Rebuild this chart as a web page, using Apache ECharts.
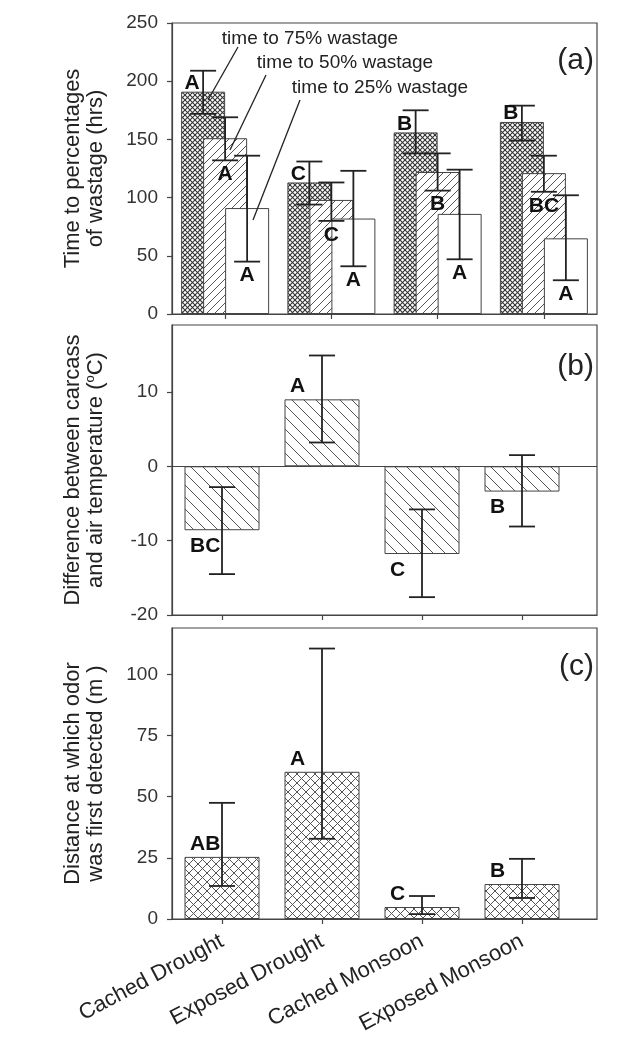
<!DOCTYPE html>
<html>
<head>
<meta charset="utf-8">
<script src="https://cdn.jsdelivr.net/npm/echarts@6/dist/echarts.min.js"></script>
<style>
  html, body { margin: 0; padding: 0; background: #fff; }
  #chart { width: 626px; height: 1062px; }
</style>
</head>
<body>
<div id="chart"></div>
<script>
// ---- data ----
const categories = ['Cached Drought', 'Exposed Drought', 'Cached Monsoon', 'Exposed Monsoon'];

// (a) time to percentages of wastage (hrs)
const t75 = [191, 113, 156, 165];
const t75Hi = [209, 131, 175, 179];
const t75Lo = [172, 94, 138, 149];
const t75Letters = ['A', 'C', 'B', 'B'];

const t50 = [151, 98, 122, 121];
const t50Hi = [169, 113, 138, 136];
const t50Lo = [132, 80, 106, 105];
const t50Letters = ['A', 'C', 'B', 'BC'];

const t25 = [91, 82, 86, 65];
const t25Hi = [136, 123, 124, 102];
const t25Lo = [45, 41, 47, 29];
const t25Letters = ['A', 'A', 'A', 'A'];

// (b) carcass minus air temperature (C)
const tempDiff = [-8.6, 9.0, -11.8, -3.4];
const tempHi = [-2.8, 14.9, -5.8, 1.5];
const tempLo = [-14.5, 3.2, -17.6, -8.1];
const tempLetters = ['BC', 'A', 'C', 'B'];

// (c) distance odor first detected (m)
const odor = [25.4, 60.2, 4.9, 14.3];
const odorHi = [47.5, 110.6, 9.4, 24.6];
const odorLo = [13.5, 32.8, 2.0, 8.6];
const odorLetters = ['AB', 'A', 'C', 'B'];

const yTicksA = [0, 50, 100, 150, 200, 250];
const yTicksB = [-20, -10, 0, 10];
const yTicksC = [0, 25, 50, 75, 100];
const xPos = [1, 2, 3, 4];

// ---- styling ----
const FONT = 'Liberation Sans, Arial, sans-serif';
const INK = '#222';
const EDGE = '#444';
const BAR_A = 44;
const GAP_A = -0.5;

function hatch(size, dirs, lw, col) {
    const c = document.createElement('canvas');
    c.width = c.height = size;
    const g = c.getContext('2d');
    g.fillStyle = '#fff';
    g.fillRect(0, 0, size, size);
    g.strokeStyle = col;
    g.lineWidth = lw;
    dirs.forEach(d => {
        for (let k = -1; k <= 1; k++) {
            g.beginPath();
            if (d > 0) { g.moveTo(k * size, size); g.lineTo(k * size + size, 0); }
            else { g.moveTo(k * size, 0); g.lineTo(k * size + size, size); }
            g.stroke();
        }
    });
    return { image: c, repeat: 'repeat' };
}

const crossFine = hatch(5, [1, -1], 1.1, '#333');
const slashA = hatch(8, [1], 1, '#555');
const backB = hatch(12, [-1], 1, '#555');
const crossC = hatch(9, [1, -1], 1, '#555');

// error bars + significance letters drawn through the axes
function errSeries(xi, yi, mean, hi, lo, letters, xs, offset, mode) {
    return {
        type: 'custom',
        xAxisIndex: xi,
        yAxisIndex: yi,
        z: 5,
        clip: false,
        silent: true,
        data: mean.map((v, i) => [xs[i], v, hi[i], lo[i]]),
        renderItem: function (params, api) {
            const xv = api.value(0);
            const m = api.coord([xv, api.value(1)]);
            const h = api.coord([xv, api.value(2)]);
            const l = api.coord([xv, api.value(3)]);
            const zero = api.coord([xv, 0]);
            const x = m[0] + offset;
            const cap = 13;
            const ls = { stroke: INK, lineWidth: 1.8 };
            const txt = letters[params.dataIndex];
            let tx, ty, al;
            if (mode === 'left') { tx = x - 3.5; ty = m[1] - 8.5; al = 'right'; }
            else if (mode === 'below') { tx = x; ty = l[1] + 14; al = 'center'; }
            else {
                const up = m[1] <= zero[1];
                tx = x - 32; al = 'left';
                ty = up ? m[1] - 13 : m[1] + 16;
            }
            return {
                type: 'group',
                children: [
                    { type: 'line', shape: { x1: x, y1: h[1], x2: x, y2: l[1] }, style: ls },
                    { type: 'line', shape: { x1: x - cap, y1: h[1], x2: x + cap, y2: h[1] }, style: ls },
                    { type: 'line', shape: { x1: x - cap, y1: l[1], x2: x + cap, y2: l[1] }, style: ls },
                    { type: 'text', x: tx, y: ty, style: {
                        text: txt, fill: '#111', fontSize: 21, fontWeight: 'bold', fontFamily: FONT,
                        align: al, verticalAlign: 'middle' } }
                ]
            };
        }
    };
}

const tickStyle = { show: true, inside: false, length: 5, lineStyle: { color: EDGE, width: 1.2 } };
const lineStyle = { show: true, lineStyle: { color: EDGE, width: 1.2 } };
const yLabel = { fontSize: 19, color: '#333', fontFamily: FONT, margin: 14 };
const nameStyle = {
    fontSize: 22, lineHeight: 23, color: INK, fontFamily: FONT,
    rich: { s: { fontSize: 13, lineHeight: 23, verticalAlign: 'top', color: INK, fontFamily: FONT } }
};
const barOff = BAR_A * (1 + GAP_A);

const chart = echarts.init(document.getElementById('chart'), null, { renderer: 'canvas' });

const option = {
    backgroundColor: '#fff',
    animation: false,
    grid: [
        { left: 172, top: 23, width: 425, height: 291, show: true, borderColor: EDGE, borderWidth: 1.2 },
        { left: 172, top: 325, width: 425, height: 290, show: true, borderColor: EDGE, borderWidth: 1.2 },
        { left: 172, top: 628, width: 425, height: 291, show: true, borderColor: EDGE, borderWidth: 1.2 }
    ],
    xAxis: [
        { gridIndex: 0, type: 'category', data: categories, axisLine: lineStyle,
          axisTick: Object.assign({ alignWithLabel: true, interval: 0 }, tickStyle),
          axisLabel: { show: false }, splitLine: { show: false } },
        { gridIndex: 1, type: 'value', min: 0.5, max: 4.75,
          axisLine: Object.assign({ onZero: false }, lineStyle),
          axisTick: Object.assign({ customValues: xPos }, tickStyle),
          axisLabel: { show: false, customValues: xPos }, splitLine: { show: false } },
        { gridIndex: 2, type: 'value', min: 0.5, max: 4.75,
          axisLine: Object.assign({ onZero: false }, lineStyle),
          axisTick: Object.assign({ customValues: xPos }, tickStyle),
          axisLabel: { customValues: xPos, formatter: v => categories[Math.round(v) - 1],
                       rotate: 28, fontSize: 22, color: INK, fontFamily: FONT, margin: 21 },
          splitLine: { show: false } }
    ],
    yAxis: [
        { gridIndex: 0, type: 'value', min: 0, max: 250,
          name: 'Time to percentages\nof wastage (hrs)', nameLocation: 'middle', nameGap: 65, nameRotate: 90,
          nameTextStyle: nameStyle,
          axisLine: lineStyle, axisTick: Object.assign({ customValues: yTicksA }, tickStyle),
          axisLabel: Object.assign({ customValues: yTicksA }, yLabel), splitLine: { show: false } },
        { gridIndex: 1, type: 'value', min: -20, max: 19,
          name: 'Difference between carcass\nand air temperature ({s|o}C)', nameLocation: 'middle', nameGap: 65, nameRotate: 90,
          nameTextStyle: nameStyle,
          axisLine: Object.assign({ onZero: false }, lineStyle), axisTick: Object.assign({ customValues: yTicksB }, tickStyle),
          axisLabel: Object.assign({ customValues: yTicksB }, yLabel), splitLine: { show: false } },
        { gridIndex: 2, type: 'value', min: 0, max: 119,
          name: 'Distance at which odor\nwas first detected (m )', nameLocation: 'middle', nameGap: 65, nameRotate: 90,
          nameTextStyle: nameStyle,
          axisLine: lineStyle, axisTick: Object.assign({ customValues: yTicksC }, tickStyle),
          axisLabel: Object.assign({ customValues: yTicksC }, yLabel), splitLine: { show: false } }
    ],
    series: [
        { name: 'time to 75% wastage', type: 'bar', xAxisIndex: 0, yAxisIndex: 0, data: t75,
          barWidth: BAR_A, barGap: '-50%', itemStyle: { color: crossFine, borderColor: EDGE, borderWidth: 1 } },
        { name: 'time to 50% wastage', type: 'bar', xAxisIndex: 0, yAxisIndex: 0, data: t50,
          barWidth: BAR_A, barGap: '-50%', itemStyle: { color: slashA, borderColor: EDGE, borderWidth: 1 } },
        { name: 'time to 25% wastage', type: 'bar', xAxisIndex: 0, yAxisIndex: 0, data: t25,
          barWidth: BAR_A, barGap: '-50%', itemStyle: { color: '#fff', borderColor: EDGE, borderWidth: 1 } },
        errSeries(0, 0, t75, t75Hi, t75Lo, t75Letters, [0, 1, 2, 3], -barOff, 'left'),
        errSeries(0, 0, t50, t50Hi, t50Lo, t50Letters, [0, 1, 2, 3], 0, 'below'),
        errSeries(0, 0, t25, t25Hi, t25Lo, t25Letters, [0, 1, 2, 3], barOff, 'below'),

        { name: 'temperature difference', type: 'bar', xAxisIndex: 1, yAxisIndex: 1,
          data: tempDiff.map((v, i) => [xPos[i], v]), barWidth: 75,
          itemStyle: { color: backB, borderColor: EDGE, borderWidth: 1 },
          markLine: { silent: true, symbol: ['none', 'none'], label: { show: false },
                      lineStyle: { color: EDGE, width: 1.2, type: 'solid' }, data: [{ yAxis: 0 }] } },
        errSeries(1, 1, tempDiff, tempHi, tempLo, tempLetters, xPos, 0, 'side'),

        { name: 'odor distance', type: 'bar', xAxisIndex: 2, yAxisIndex: 2,
          data: odor.map((v, i) => [xPos[i], v]), barWidth: 75,
          itemStyle: { color: crossC, borderColor: EDGE, borderWidth: 1 } },
        errSeries(2, 2, odor, odorHi, odorLo, odorLetters, xPos, 0, 'side')
    ],
    graphic: [
        { type: 'text', x: 310, y: 39, z: 20, style: { text: 'time to 75% wastage', fontSize: 19, fontFamily: FONT, fill: INK, align: 'center', verticalAlign: 'middle' } },
        { type: 'text', x: 345, y: 63, z: 20, style: { text: 'time to 50% wastage', fontSize: 19, fontFamily: FONT, fill: INK, align: 'center', verticalAlign: 'middle' } },
        { type: 'text', x: 380, y: 88, z: 20, style: { text: 'time to 25% wastage', fontSize: 19, fontFamily: FONT, fill: INK, align: 'center', verticalAlign: 'middle' } },
        { type: 'line', z: 20, shape: { x1: 238, y1: 47, x2: 208, y2: 100 }, style: { stroke: INK, lineWidth: 1.3 } },
        { type: 'line', z: 20, shape: { x1: 266, y1: 75, x2: 230, y2: 150 }, style: { stroke: INK, lineWidth: 1.3 } },
        { type: 'line', z: 20, shape: { x1: 300, y1: 100, x2: 253, y2: 220 }, style: { stroke: INK, lineWidth: 1.3 } },
        { type: 'text', x: 594, y: 61, z: 20, style: { text: '(a)', fontSize: 30, fontFamily: FONT, fill: INK, align: 'right', verticalAlign: 'middle' } },
        { type: 'text', x: 594, y: 367, z: 20, style: { text: '(b)', fontSize: 30, fontFamily: FONT, fill: INK, align: 'right', verticalAlign: 'middle' } },
        { type: 'text', x: 594, y: 667, z: 20, style: { text: '(c)', fontSize: 30, fontFamily: FONT, fill: INK, align: 'right', verticalAlign: 'middle' } }
    ]
};

chart.setOption(option);
</script>
</body>
</html>
